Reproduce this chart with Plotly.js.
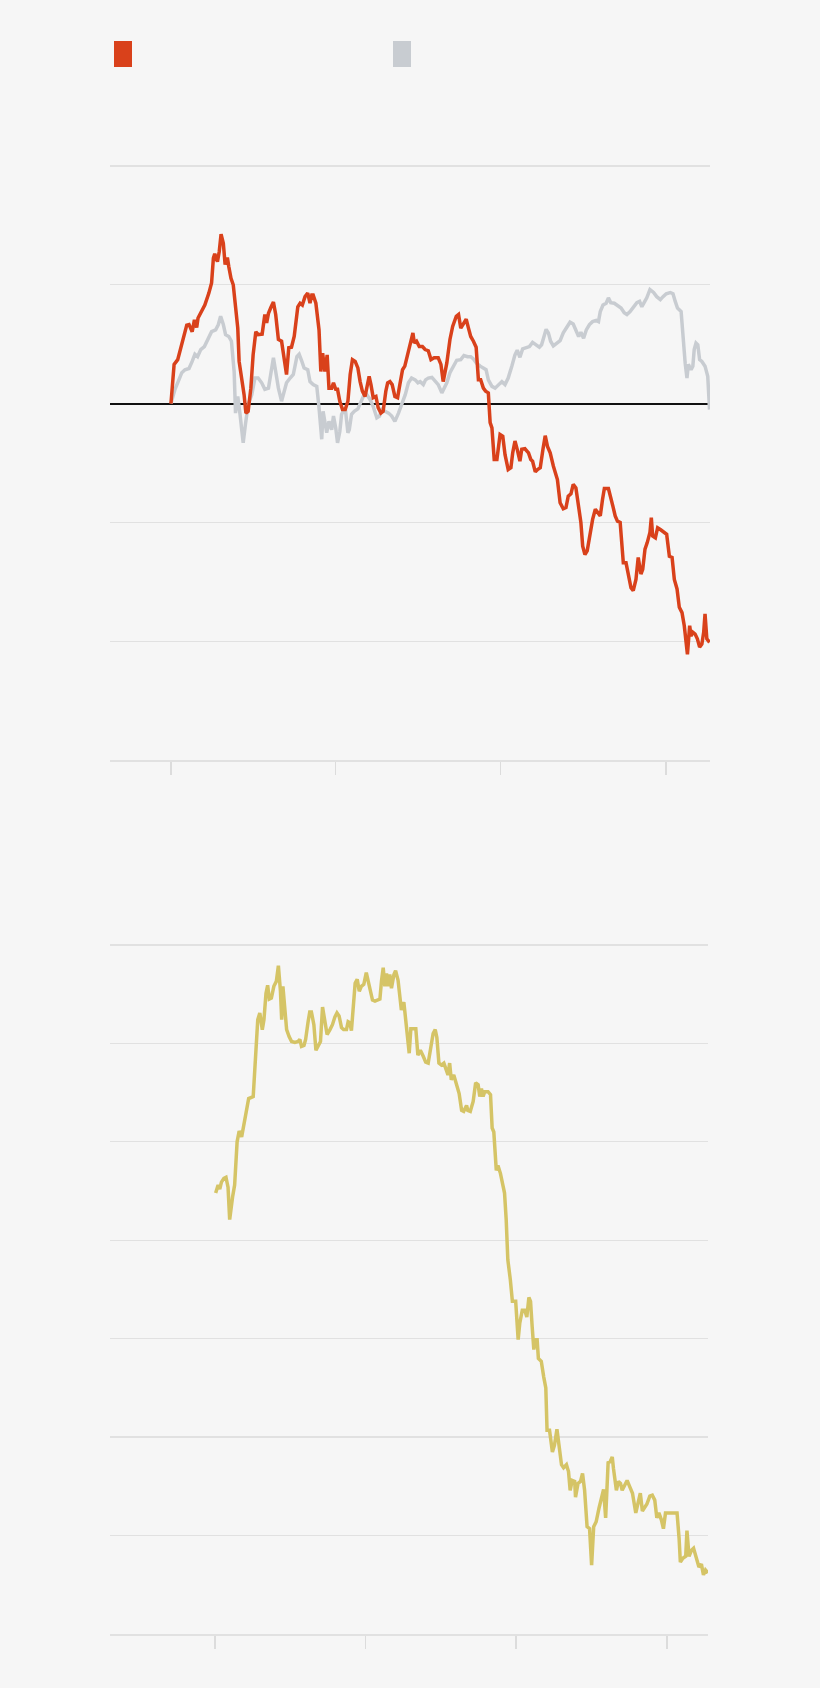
<!DOCTYPE html>
<html>
<head>
<meta charset="utf-8">
<script src="https://cdn.plot.ly/plotly-3.0.1.min.js"></script>
<style>
  html, body { margin: 0; padding: 0; background: #f6f6f6; }
  #plot-container { width: 820px; height: 1688px; }
</style>
</head>
<body>
<div id="plot-container"></div>
<script>
// Top panel: % change since start, days since first tick
const redDays = [0,7,15,27,35,40,47,52,57,60,
    68,75,84,90,94,97,103,107,111,116,
    120,125,128,133,138,143,148,151,157,162,
    166,171,177,182,188,193,202,208,212,216,
    222,227,232,238,245,251,256,261,267,273,
    281,286,291,297,303,308,312,315,321,328,
    332,336,341,346,350,356,360,365,369,374,
    380,386,392,397,402,408,414,419,424,430,
    434,439,443,448,454,459,465,470,476,480,
    485,490,496,502,507,513,518,526,532,536,
    539,544,550,557,563,570,576,583,592,598,
    603,611,618,624,632,637,642,648,654,659,
    664,670,676,681,686,692,697,703,707,711,
    716,722,725,729,735,740,747,753,757,762,
    767,773,777,784,792,797,801,807,812,818,
    824,829,834,840,847,856,862,869,875,880,
    886,891,897,903,908,912,917,922,928,934,
    940,945,951,956,960,969,974,979,984,989,
    995,999,1002,1008,1013,1019,1024,1030,1035,1041,
    1045,1050,1055,1061,1064,1067,1073,1078,1084,1091,
    1098,1104,1110,1115,1121,1126,1132,1137,1141,1144,
    1149,1152,1156,1161,1166,1171,1176,1180,1183,1187,
    1193];
const redPct = [0,6.6,7.4,11.1,13.2,13.3,12.1,14.1,12.8,14.4,
    15.5,16.6,18.6,20.3,24.5,25.2,23.9,25.6,28.5,27.0,
    23.4,24.6,23.1,21.1,20.0,16.6,12.7,7.1,4.3,1.5,
    -1.6,-1.3,2.6,8.2,12.1,11.6,11.7,15.0,13.6,15.2,
    16.3,17.1,15.0,10.8,10.5,7.4,4.9,9.4,9.5,11.3,
    16.3,16.9,16.6,18.0,18.6,16.9,18.3,18.3,16.9,12.4,
    5.4,8.5,5.4,8.2,2.6,2.6,3.5,2.4,2.4,0.4,
    -1.0,-1.0,0.4,4.9,7.4,7.1,6.0,3.7,2.1,1.2,
    2.6,4.6,3.2,1.0,1.2,-0.7,-1.6,-1.3,2.1,3.5,
    3.7,3.2,1.2,1.0,3.2,5.7,6.3,8.8,10.2,11.9,
    10.2,10.5,9.6,9.6,9.1,8.9,7.4,7.7,7.7,6.6,
    3.7,6.8,10.8,13.0,14.7,15.0,12.7,13.6,14.2,12.7,
    11.3,10.5,9.5,4.0,4.0,2.6,2.1,1.8,-3.2,-4.1,
    -9.4,-9.4,-7.2,-5.2,-5.5,-8.6,-11.1,-10.8,-8.3,-6.3,
    -7.7,-9.7,-7.7,-7.6,-8.3,-9.4,-9.7,-11.5,-11.1,-10.8,
    -7.7,-5.4,-7.2,-8.3,-10.5,-12.8,-16.7,-17.7,-17.5,-15.6,
    -15.2,-13.6,-14.2,-17.3,-20.0,-24.0,-25.4,-24.8,-21.7,-19.5,
    -17.8,-18.4,-18.9,-16.1,-14.3,-14.3,-15.6,-17.3,-18.9,-19.8,
    -20.0,-24.0,-26.8,-26.8,-29.0,-31.0,-31.5,-29.6,-25.9,-28.7,
    -27.9,-24.5,-23.4,-21.7,-19.2,-22.3,-22.6,-20.9,-21.2,-21.6,
    -22.0,-25.7,-25.9,-29.6,-31.2,-34.3,-35.2,-37.4,-40.8,-42.2,
    -37.4,-39.1,-38.5,-38.8,-39.6,-41.0,-40.5,-38.5,-35.4,-39.6,
    -40.2];

const grayDays = [0,9,16,24,31,40,47,53,59,66,
    74,81,90,99,105,110,116,121,128,134,
    140,143,148,153,160,165,171,179,186,193,
    201,208,216,222,227,232,238,245,251,256,
    264,271,279,284,290,295,303,308,315,323,
    328,334,337,345,350,356,360,365,369,374,
    378,386,392,395,400,406,414,419,426,434,
    441,448,456,462,467,474,482,489,496,504,
    511,519,526,533,541,547,552,559,564,570,
    578,585,592,600,606,611,618,627,633,642,
    649,657,664,670,677,685,692,698,703,711,
    718,725,733,740,747,755,762,767,773,779,
    787,794,801,809,816,821,827,831,836,841,
    847,855,862,869,877,884,891,897,903,908,
    914,920,927,934,942,947,951,957,964,969,
    974,982,989,997,1004,1010,1017,1024,1032,1038,
    1043,1048,1054,1061,1069,1076,1084,1090,1097,1106,
    1112,1117,1122,1130,1134,1139,1143,1146,1152,1156,
    1159,1163,1167,1171,1176,1183,1189,1193];
const grayPct = [0,2.4,3.7,5.2,5.7,5.9,7.1,8.3,7.9,9.1,
    9.6,10.8,12.1,12.4,13.3,14.7,13.3,11.6,11.3,10.5,
    5.4,-1.6,1.2,-1.8,-6.6,-3.5,-0.2,1.5,4.3,4.3,
    3.5,2.4,2.6,5.4,7.7,5.4,2.6,0.4,2.1,3.5,
    4.3,4.9,7.9,8.3,7.1,6.0,5.7,3.7,3.2,2.9,
    -0.7,-6.0,-1.3,-4.9,-3.0,-4.4,-2.1,-4.1,-6.6,-4.7,
    -1.8,-0.7,-4.9,-4.4,-1.8,-1.3,-0.9,0.1,1.2,1.5,
    0.7,-0.5,-2.4,-2.1,-1.0,-1.3,-1.6,-2.1,-3.0,-1.6,
    -0.2,1.5,3.5,4.3,4.0,3.5,3.7,3.2,4.0,4.3,
    4.4,3.7,3.2,1.8,2.6,3.5,5.2,6.3,7.3,7.4,
    8.1,7.9,7.9,7.5,6.8,6.3,6.0,5.7,4.0,2.9,
    2.6,3.2,3.7,3.2,4.3,6.3,8.2,9.0,7.8,9.2,
    9.5,9.6,10.3,9.9,9.5,9.9,11.3,12.5,11.9,10.5,
    9.7,10.2,10.6,11.9,13.0,13.7,13.4,12.4,11.3,12.0,
    11.0,12.4,13.3,13.8,14.0,13.8,15.5,16.6,16.9,17.8,
    17.0,16.9,16.6,16.1,15.3,15.0,15.5,16.2,17.0,17.2,
    16.3,17.0,17.8,19.2,18.7,18.0,17.5,18.0,18.5,18.7,
    18.5,17.2,16.1,15.5,11.3,6.8,4.3,6.6,5.7,6.3,
    9.1,10.2,9.9,7.4,7.1,6.3,4.6,-1.0];

// Bottom panel: price level, days since first tick
const yellowDays = [2,8,12,16,22,27,32,36,43,48,
    54,59,65,70,77,82,93,99,104,109,
    115,119,124,128,132,137,143,149,154,159,
    162,165,170,174,180,186,194,202,206,210,
    216,220,226,230,234,240,245,250,256,261,
    266,272,279,285,291,296,301,307,312,319,
    323,327,331,335,340,345,350,355,361,367,
    371,377,382,388,393,400,404,408,412,416,
    420,424,428,434,438,444,448,452,458,464,
    471,475,480,487,492,498,505,511,517,522,
    529,534,538,543,549,555,561,565,569,573,
    579,585,592,598,603,610,613,619,626,632,
    638,642,646,650,654,662,668,672,676,682,
    686,692,697,702,706,710,716,721,729,735,
    739,745,751,756,761,765,769,773,777,781,
    784,791,797,802,805,811,818,823,829,834,
    840,845,852,857,861,866,872,874,880,886,
    891,896,902,908,913,918,924,931,937,942,
    947,953,958,963,966,973,978,983,987,993,
    999,1005,1012,1020,1025,1031,1036,1041,1047,1054,
    1060,1066,1071,1076,1082,1087,1092,1098,1109,1120,
    1125,1128,1134,1141,1144,1149,1155,1160,1167,1173,
    1179,1184,1189,1195];
const yellowVal = [44.8,45.6,45.2,45.9,46.3,46.4,45.4,42.1,44.4,45.6,
    50.0,51.1,50.5,51.7,53.1,54.4,54.6,59.3,62.4,63.1,
    61.4,62.4,65.1,65.9,64.5,64.6,65.8,66.3,67.9,65.3,
    62.4,65.8,62.7,61.4,60.7,60.2,60.1,60.2,60.4,59.7,
    59.8,60.4,62.2,63.2,63.2,61.9,59.3,59.7,60.2,63.7,
    62.6,60.9,61.4,61.9,62.7,63.1,62.8,61.6,61.4,61.4,
    62.2,62.1,61.3,63.6,66.1,66.5,65.3,65.8,66.0,67.2,
    66.5,65.1,64.4,64.3,64.4,64.5,66.4,67.7,65.8,67.1,
    65.8,67.0,65.6,67.0,67.4,66.4,64.9,63.4,64.2,61.9,
    59.0,61.5,61.5,61.5,58.8,59.3,58.7,58.1,58.0,59.3,
    61.0,61.4,60.6,58.0,57.8,58.0,57.1,56.8,58.0,56.3,
    56.8,56.0,54.9,53.2,53.1,53.7,53.2,53.1,54.1,56.0,
    55.8,54.6,55.4,54.6,55.1,55.1,54.8,51.4,51.0,47.1,
    47.6,46.8,45.6,44.8,42.1,38.0,36.0,33.8,33.8,29.9,
    31.6,32.9,32.9,32.2,34.2,33.8,31.2,28.9,29.9,29.9,
    28.0,27.7,26.1,25.0,20.7,20.7,18.5,19.2,20.8,19.2,
    17.2,16.9,17.2,16.5,14.6,15.6,15.5,13.9,15.3,15.5,
    16.3,14.6,10.9,10.7,7.0,10.9,11.4,12.8,13.9,14.7,
    11.8,17.4,17.5,18.0,16.8,14.6,15.5,15.3,14.6,15.1,
    15.6,15.0,14.3,12.3,13.1,14.3,12.5,12.9,13.2,14.0,
    14.1,13.6,11.8,12.3,11.6,10.7,12.3,12.3,12.3,12.3,
    9.7,7.3,7.7,7.9,10.5,7.9,8.5,8.7,7.7,6.8,
    7.1,6.0,6.5,6.2];

const yearTicks = [0, 365, 730, 1096];
const topGrid = [-40, -20, 0, 20, 40];
const bottomGrid = [10, 20, 30, 40, 50, 60, 70];

const colRed = "#d9411b";
const colGray = "#c8ccd1";
const colYellow = "#d5c466";
const colGrid = "#e1e1e1";
const bg = "#f6f6f6";

const plotContainer = document.getElementById("plot-container");

// pixel helpers for paper coordinates (page is 820 x 1688)
const W = 820, H = 1688;
const px = v => v / W;
const py = v => 1 - v / H;

const traces = [];

traces.push({
    x: grayDays,
    y: grayPct,
    xaxis: "x",
    yaxis: "y",
    mode: "lines",
    type: "scatter",
    line: { color: colGray, width: 3.5 },
    hoverinfo: "skip"
});

traces.push({
    x: redDays,
    y: redPct,
    xaxis: "x",
    yaxis: "y",
    mode: "lines",
    type: "scatter",
    line: { color: colRed, width: 3.5 },
    hoverinfo: "skip"
});

traces.push({
    x: yellowDays,
    y: yellowVal,
    xaxis: "x2",
    yaxis: "y2",
    mode: "lines",
    type: "scatter",
    line: { color: colYellow, width: 3.5 },
    hoverinfo: "skip"
});

const layout = {
    width: W,
    height: H,
    autosize: false,
    margin: { l: 0, r: 0, t: 0, b: 0 },
    paper_bgcolor: bg,
    plot_bgcolor: bg,
    showlegend: false,
    xaxis: {
        domain: [px(110), px(710)],
        anchor: "y",
        range: [-135, 1194],
        tickvals: yearTicks,
        showticklabels: false,
        ticks: "outside",
        ticklen: 13,
        tickwidth: 1.5,
        tickcolor: "#dcdcdc",
        showgrid: false,
        zeroline: false,
        showline: true,
        linecolor: colGrid,
        linewidth: 1.5
    },
    yaxis: {
        // range pushed a touch past 40 so the top gridline is still drawn
        domain: [py(760), py(164.2)],
        anchor: "x",
        range: [-60, 40.3],
        tickvals: topGrid,
        showticklabels: false,
        ticks: "",
        showgrid: true,
        gridcolor: colGrid,
        gridwidth: 1.3,
        zeroline: true,
        zerolinecolor: "#111111",
        zerolinewidth: 2
    },
    xaxis2: {
        domain: [px(110), px(708)],
        anchor: "y2",
        range: [-254, 1195],
        tickvals: yearTicks,
        showticklabels: false,
        ticks: "outside",
        ticklen: 13,
        tickwidth: 1.5,
        tickcolor: "#dcdcdc",
        showgrid: false,
        zeroline: false,
        showline: true,
        linecolor: colGrid,
        linewidth: 1.5
    },
    yaxis2: {
        domain: [py(1634), py(943)],
        anchor: "x2",
        range: [0, 70.2],
        tickvals: bottomGrid,
        showticklabels: false,
        ticks: "",
        showgrid: true,
        gridcolor: colGrid,
        gridwidth: 1.3,
        zeroline: false
    },
    // legend swatches (the legend carries no text)
    shapes: [
        {
            type: "rect", xref: "paper", yref: "paper",
            x0: px(114), x1: px(132), y0: py(67), y1: py(41),
            fillcolor: colRed, line: { width: 0 }
        },
        {
            type: "rect", xref: "paper", yref: "paper",
            x0: px(393), x1: px(411), y0: py(67), y1: py(41),
            fillcolor: colGray, line: { width: 0 }
        }
    ]
};

const config = {
    staticPlot: true,
    displayModeBar: false,
    responsive: false
};

Plotly.newPlot(plotContainer, traces, layout, config);
</script>
</body>
</html>
